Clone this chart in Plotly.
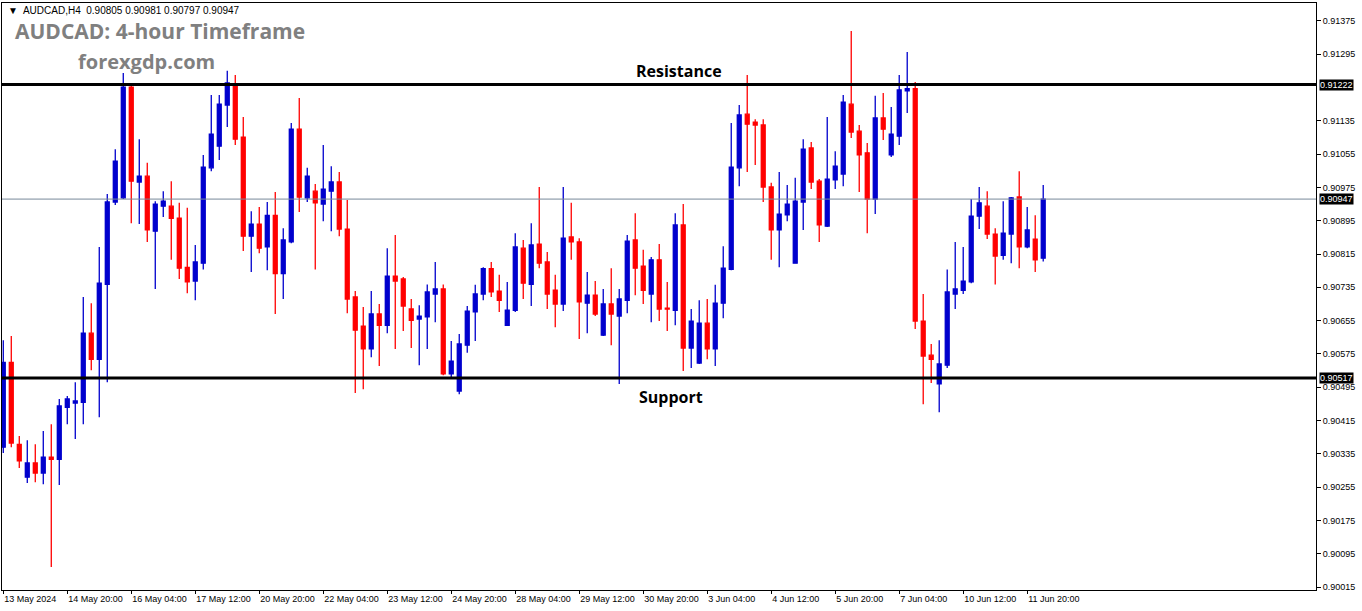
import plotly.graph_objects as go

opens = [90351,90555,90358,90279,90313,90289,90327,90322,90447,90457,90459,90625,90562,90742,90940,90950,91216,90988,91002,90870,
90930,90930,90901,90783,90750,90793,91022,91074,91173,91223,91096,90858,90887,90832,90908,90768,90844,91115,90950,90966,
90935,90966,90988,90875,90712,90642,90587,90671,90644,90762,90755,90683,90659,90664,90719,90731,90527,90486,90596,90676,
90719,90780,90726,90644,90680,90829,90742,90839,90796,90728,90695,90856,90844,90697,90716,90620,90695,90666,90704,90849,
90786,90719,90801,90685,90680,90885,90589,90553,90649,90587,90697,90778,91022,91151,91132,91125,90976,90873,90909,90793,
90940,91070,90990,90882,90993,91007,91175,91110,91058,90947,91142,91053,91098,91207,91212,90654,90572,90503,90548,90719,
90728,90748,90906,90930,90863,90812,90863,90952,90832,90851,90805]
highs = [90608,90618,90378,90368,90358,90390,90406,90467,90474,90507,90712,90697,90832,90959,91067,91250,91224,91091,91034,90942,
90966,90990,90938,90926,90837,91053,91197,91197,91255,91245,91144,90918,90928,90940,90964,90877,91130,91190,91022,90983,
91077,91026,91012,90945,90726,90688,90726,90695,90829,90861,90760,90707,90692,90742,90796,90742,90606,90623,90690,90741,
90783,90796,90765,90748,90865,90849,90889,90976,90820,90765,90976,90938,90853,90772,90750,90731,90781,90731,90861,90913,
90825,90808,90839,90748,90913,90935,90683,90704,90707,90741,90834,91130,91173,91245,91139,91139,90986,91012,90981,90998,
91091,91084,90995,91144,91062,91197,91351,91125,91082,91195,91202,91168,91245,91300,91228,90719,90599,90608,90778,90844,
90832,90947,90976,90966,90877,90942,90952,91014,90928,90908,90981]
lows = [90337,90351,90301,90265,90267,90262,90063,90260,90406,90371,90406,90536,90423,90507,90933,90947,90889,90887,90844,90731,
90904,90801,90755,90721,90704,90778,91014,91041,91120,91077,90822,90772,90817,90776,90671,90707,90841,90916,90940,90778,
90894,90870,90858,90673,90481,90490,90567,90546,90625,90587,90630,90589,90548,90587,90651,90524,90515,90478,90578,90606,
90704,90712,90676,90644,90676,90707,90690,90781,90683,90639,90678,90801,90611,90625,90666,90618,90596,90503,90673,90716,
90695,90651,90654,90630,90644,90534,90541,90551,90562,90546,90661,90776,90978,91012,91029,90940,90801,90783,90894,90793,
90873,90971,90844,90880,90971,90978,91094,90964,90865,90911,91089,91048,91077,91154,90635,90454,90505,90435,90541,90683,
90719,90745,90875,90851,90742,90801,90793,90781,90829,90772,90797]
closes = [90555,90361,90318,90313,90289,90327,90322,90450,90467,90462,90625,90562,90745,90940,91038,91216,90990,91002,90873,90935,
90942,90901,90781,90748,90796,91024,91103,91175,91226,91091,90858,90887,90829,90908,90768,90849,91115,90952,91002,90938,
90971,90988,90875,90707,90632,90587,90671,90644,90762,90750,90690,90656,90666,90724,90731,90527,90558,90599,90678,90719,
90780,90724,90704,90680,90832,90745,90837,90793,90719,90695,90853,90844,90700,90716,90671,90695,90671,90707,90846,90781,
90728,90801,90683,90683,90885,90589,90654,90649,90587,90697,90781,91024,91149,91127,91125,90976,90873,90911,90935,90942,
91067,90988,90885,90995,91026,91180,91108,91053,90947,91142,91115,91103,91209,91212,90654,90570,90562,90551,90724,90731,
90750,90906,90938,90863,90810,90865,90950,90832,90873,90801,90947]

tick_idx = [0,8,16,24,32,40,48,56,64,72,80,88,96,104,112,120,128]
tick_text = ["13 May 2024","14 May 20:00","16 May 04:00","17 May 12:00","20 May 20:00","22 May 04:00","23 May 12:00",
             "24 May 20:00","28 May 04:00","29 May 12:00","30 May 20:00","3 Jun 04:00","4 Jun 12:00","5 Jun 20:00",
             "7 Jun 04:00","10 Jun 12:00","11 Jun 20:00"]
price_ticks = [0.91375,0.91295,0.91135,0.91055,0.90975,0.90895,0.90815,0.90735,0.90655,0.90575,
               0.90495,0.90415,0.90335,0.90255,0.90175,0.90095,0.90015]
resistance = 0.91222
support = 0.90517
last_price = 0.90947

sc = 1e-5
x = list(range(len(opens)))
fig = go.Figure(go.Candlestick(
    x=x, open=[v*sc for v in opens], high=[v*sc for v in highs],
    low=[v*sc for v in lows], close=[v*sc for v in closes],
    increasing=dict(line=dict(color="#0000CD", width=1.3), fillcolor="#0000CD"),
    decreasing=dict(line=dict(color="#FF0000", width=1.3), fillcolor="#FF0000"),
    whiskerwidth=0, showlegend=False, hoverinfo="skip"))

for lvl, w, c in [(resistance, 3, "black"), (support, 3, "black"), (last_price, 1, "#778899")]:
    fig.add_shape(type="line", xref="paper", x0=0, x1=1, y0=lvl, y1=lvl, line=dict(color=c, width=w))
    fig.add_annotation(xref="paper", x=1.002, y=lvl, xanchor="left", yanchor="middle", text=f"{lvl:.5f}",
                       showarrow=False, bgcolor="black", font=dict(color="white", size=9, family="Arial"),
                       borderpad=0)

fig.add_annotation(xref="paper", yref="paper", x=0.003, y=1.0, xanchor="left", yanchor="top", showarrow=False,
                   text="▼  AUDCAD,H4  0.90805 0.90981 0.90797 0.90947", font=dict(size=10, color="black", family="Arial"))
fig.add_annotation(xref="paper", yref="paper", x=0.008, y=0.98, xanchor="left", yanchor="top", showarrow=False,
                   text="<b>AUDCAD: 4-hour Timeframe</b>", font=dict(size=21, color="#808080", family="Open Sans"))
fig.add_annotation(xref="paper", yref="paper", x=0.056, y=0.927, xanchor="left", yanchor="top", showarrow=False,
                   text="<b>forexgdp.com</b>", font=dict(size=20, color="#808080", family="Open Sans"))
fig.add_annotation(x=84.5, y=resistance, yshift=14, showarrow=False, text="<b>Resistance</b>",
                   font=dict(size=16, color="black", family="Open Sans"))
fig.add_annotation(x=83.5, y=support, yshift=-19, showarrow=False, text="<b>Support</b>",
                   font=dict(size=16, color="black", family="Open Sans"))

fig.update_layout(
    width=1362, height=611, margin=dict(l=2, r=46, t=3, b=21),
    paper_bgcolor="white", plot_bgcolor="white",
    xaxis=dict(range=[-0.16, 164.1], tickvals=tick_idx, ticktext=tick_text, showgrid=False,
               rangeslider=dict(visible=False), ticks="outside", ticklen=3, tickcolor="black",
               ticklabelposition="outside right",
               showline=True, linecolor="black", mirror=True, tickfont=dict(size=9, family="Arial", color="black")),
    yaxis=dict(range=[0.90008, 0.91418], side="right", tickvals=price_ticks, ticktext=[f"{t:.5f}" for t in price_ticks],
               showgrid=False, ticks="outside", ticklen=4, tickcolor="black", showline=True, linecolor="black",
               mirror=True, tickfont=dict(size=9, family="Arial", color="black")),
)
fig.write_html("out.html", config={"displayModeBar": False},
               post_script="document.body.style.margin='0';document.body.style.overflow='hidden';")
